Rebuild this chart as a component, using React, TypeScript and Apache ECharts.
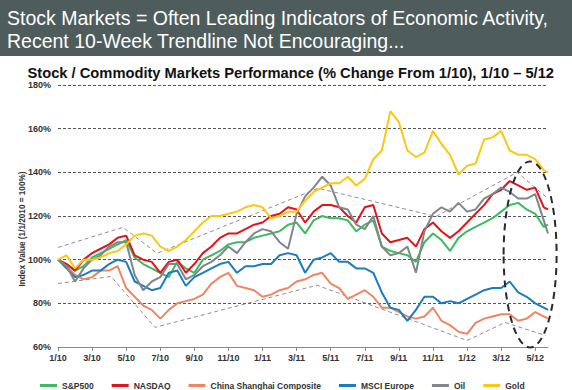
import React, { useEffect, useRef } from "react";
import * as echarts from "echarts";

// Months elapsed since 1/1/2010, sampled twice a month, last point mid-May 2012
const periods: number[] = Array.from({ length: 58 }, (_, i) => i / 2).concat([28.75]);

const tickLabels = ["1/10", "3/10", "5/10", "7/10", "9/10", "11/10", "1/11", "3/11", "5/11", "7/11", "9/11", "11/11", "1/12", "3/12", "5/12"];

const sp500 = [100, 98, 95, 97, 101, 103, 105, 107, 109, 101, 98, 96, 94, 92, 99, 96, 94, 100, 102, 104, 107, 108, 108, 110, 111, 112, 113, 116, 117, 112, 118, 120, 119, 119, 118, 113, 116, 118, 106, 104, 103, 102, 99, 108, 112, 109, 104, 110, 113, 115, 117, 119, 122, 125, 126, 123, 121, 115, 116];
const nasdaq = [100, 98, 95, 100, 103, 105, 107, 110, 111, 102, 100, 99, 94, 99, 100, 94, 98, 103, 106, 110, 112, 112, 114, 116, 117, 120, 121, 124, 123, 117, 122, 125, 125, 124, 120, 117, 124, 125, 112, 108, 109, 110, 106, 114, 117, 113, 110, 113, 117, 121, 125, 130, 132, 136, 134, 132, 133, 124, 123];
const shanghai = [100, 97, 93, 91, 92, 95, 95, 97, 87, 83, 79, 77, 73, 77, 80, 81, 82, 84, 89, 92, 94, 88, 87, 86, 83, 84, 86, 87, 90, 91, 93, 94, 89, 87, 82, 84, 86, 83, 78, 78, 76, 74, 73, 74, 78, 72, 70, 67, 66, 71, 73, 74, 75, 75, 72, 73, 76, 74, 73];
const msciEurope = [100, 96, 92, 93, 95, 95, 98, 100, 99, 90, 88, 86, 87, 94, 95, 88, 92, 94, 96, 98, 99, 94, 97, 97, 98, 98, 102, 103, 102, 94, 100, 101, 103, 99, 99, 96, 96, 94, 85, 78, 77, 72, 77, 83, 83, 80, 81, 80, 82, 84, 86, 87, 87, 90, 85, 83, 80, 78, 77];
const oil = [100, 97, 90, 96, 100, 102, 106, 108, 108, 93, 86, 90, 92, 98, 98, 91, 93, 97, 99, 102, 106, 103, 108, 112, 114, 113, 108, 105, 121, 129, 133, 138, 134, 124, 123, 116, 114, 120, 106, 102, 103, 106, 94, 113, 121, 124, 122, 126, 122, 123, 128, 130, 133, 131, 128, 128, 130, 118, 112];
const gold = [100, 102, 96, 100, 100, 101, 103, 104, 107, 111, 112, 111, 106, 104, 106, 109, 113, 117, 120, 120, 121, 122, 124, 125, 124, 119, 120, 122, 122, 127, 131, 133, 135, 135, 138, 134, 137, 146, 150, 168, 163, 150, 147, 149, 159, 153, 148, 139, 143, 144, 155, 156, 159, 150, 148, 148, 146, 141, 140];

// Hand-drawn trend channels [month, index value]
const trendUpper = [[0, 105.6], [3.81, 114.8], [5.81, 102.9], [15.26, 132.7], [22.18, 119.8], [26.94, 140], [28.75, 128]];
const trendLower = [[0, 89.1], [3.11, 92.3], [5.69, 69.0], [15.2, 88.3], [24.0, 63.0], [26.23, 71.2], [28.6, 65.3]];

// Highlight ellipse centre [month, index value]
const ellipseCenter = [27.7, 102.4];

const seriesNames = ["S&P500", "NASDAQ", "China Shanghai Composite", "MSCI Europe", "Oil", "Gold"];
const seriesValues = [sp500, nasdaq, shanghai, msciEurope, oil, gold];
const seriesColors = ["#3dba5f", "#e3131b", "#ee8665", "#1c7cc0", "#80878a", "#fcc812"];

const FONT = '"Liberation Sans", Arial, sans-serif';

export default function App() {
  const ref = useRef<HTMLDivElement>(null);
  useEffect(() => {
    document.body.style.margin = "0";
    if (!ref.current) return;
    const chart = echarts.init(ref.current, null, { renderer: "svg" });
    const pair = (vals: number[]) => vals.map((v, i) => [periods[i], v]);
    const trendStyle = { color: "#8f8f8f", width: 1, type: [4, 3] as any };
    const option: any = {
      animation: false,
      backgroundColor: "#ffffff",
      textStyle: { fontFamily: FONT },
      grid: { left: 58, right: 24, top: 85, bottom: 43 },
      xAxis: {
        type: "value",
        min: 0,
        max: 28.75,
        interval: 2,
        axisLine: { lineStyle: { color: "#8a8a8a", width: 1 } },
        axisTick: { show: true, length: 4, lineStyle: { color: "#8a8a8a" } },
        splitLine: { show: false },
        axisLabel: {
          fontSize: 9,
          fontWeight: "bold",
          color: "#333",
          margin: 6,
          showMaxLabel: false,
          formatter: (v: number) => (Number.isInteger(v / 2) ? tickLabels[v / 2] ?? "" : ""),
        },
      },
      yAxis: {
        type: "value",
        min: 60,
        max: 180,
        interval: 20,
        axisLine: { show: false },
        axisTick: { show: false },
        splitLine: { lineStyle: { color: "#555", type: [3, 2], width: 1 } },
        axisLabel: { formatter: "{value}%", fontSize: 9, fontWeight: "bold", color: "#333", margin: 7 },
      },
      legend: {
        data: seriesNames,
        top: 376,
        left: 35,
        icon: "rect",
        itemWidth: 17,
        itemHeight: 3,
        itemGap: 18,
        textStyle: { fontSize: 8.5, fontWeight: "bold", color: "#333", fontFamily: FONT },
      },
      series: [
        { type: "line", name: "trendUpper", data: trendUpper, symbol: "none", silent: true, lineStyle: trendStyle, z: 1 },
        { type: "line", name: "trendLower", data: trendLower, symbol: "none", silent: true, lineStyle: trendStyle, z: 1 },
        ...seriesNames.map((name, i) => ({
          type: "line",
          name,
          data: pair(seriesValues[i]),
          symbol: "none",
          color: seriesColors[i],
          lineStyle: { width: 2, color: seriesColors[i] },
          z: 2 + i,
        })),
      ],
      graphic: [
        { id: "band", type: "rect", left: 0, top: 0, shape: { width: 572, height: 56 }, style: { fill: "#4e5c5c" }, z: 0 },
        {
          id: "t1", type: "text", x: 7, y: 18,
          style: { text: "Stock Markets = Often Leading Indicators of Economic Activity,", fill: "#ffffff", fontSize: 19.5, fontFamily: FONT, textVerticalAlign: "middle" },
        },
        {
          id: "t2", type: "text", x: 7, y: 41,
          style: { text: "Recent 10-Week Trendline Not Encouraging...", fill: "#ffffff", fontSize: 19.5, fontFamily: FONT, textVerticalAlign: "middle" },
        },
        {
          id: "sub", type: "text", x: 27.5, y: 73,
          style: { text: "Stock / Commodity Markets Performance (% Change From 1/10), 1/10 \u2013 5/12", fill: "#111", fontSize: 14.7, fontWeight: "bold", fontFamily: FONT, textVerticalAlign: "middle" },
        },
        {
          id: "yname", type: "text", x: 22.7, y: 229, rotation: Math.PI / 2,
          style: { text: "Index Value (1/1/2010 = 100%)", fill: "#333", fontSize: 8.2, fontWeight: "bold", fontFamily: FONT, textAlign: "center", textVerticalAlign: "middle" },
        },
      ],
    };
    chart.setOption(option);
    const c = chart.convertToPixel({ gridIndex: 0 }, ellipseCenter) as number[];
    chart.setOption({
      graphic: [
        {
          id: "ellipse", type: "ellipse",
          shape: { cx: c[0], cy: c[1], rx: 26.5, ry: 93 },
          style: { fill: "none", stroke: "#2a2a2a", lineWidth: 2, lineDash: [7, 5] },
          z: 50,
        },
      ],
    });
    return () => chart.dispose();
  }, []);
  return <div ref={ref} style={{ width: 572, height: 390 }} />;
}
